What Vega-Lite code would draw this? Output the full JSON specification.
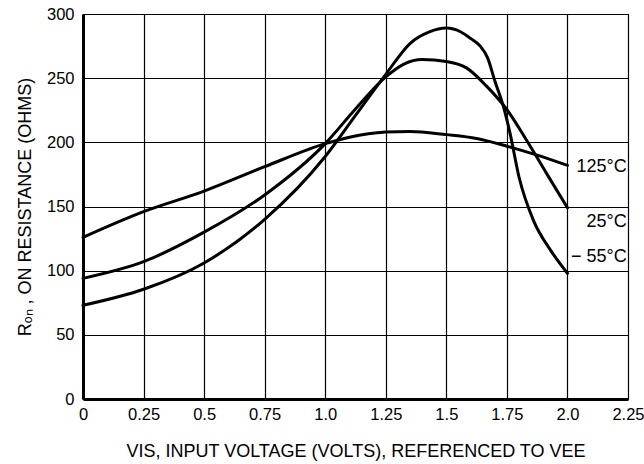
{
  "$schema": "https://vega.github.io/schema/vega-lite/v6.json",
  "autosize": {"type": "none"},
  "padding": {"left": 83, "top": 14, "right": 16, "bottom": 65},
  "width": 545,
  "height": 385,
  "background": "white",
  "config": {
    "font": "Liberation Sans, Arial, sans-serif",
    "view": {"stroke": "black", "strokeWidth": 1},
    "axis": {
      "grid": true,
      "gridColor": "black",
      "gridOpacity": 1,
      "gridWidth": 1.2,
      "domainColor": "black",
      "domainWidth": 3,
      "ticks": false,
      "labelColor": "black",
      "labelFontSize": 16.5,
      "titleColor": "black",
      "titleFontSize": 18,
      "titleFontWeight": "normal"
    }
  },
  "data": {
    "values": [
      {"series": "125", "v": 0, "r": 126},
      {"series": "125", "v": 0.25, "r": 146},
      {"series": "125", "v": 0.5, "r": 162},
      {"series": "125", "v": 0.75, "r": 181},
      {"series": "125", "v": 1.0, "r": 199},
      {"series": "125", "v": 1.1, "r": 204},
      {"series": "125", "v": 1.25, "r": 208},
      {"series": "125", "v": 1.35, "r": 208.5},
      {"series": "125", "v": 1.5, "r": 206},
      {"series": "125", "v": 1.625, "r": 203},
      {"series": "125", "v": 1.75, "r": 197},
      {"series": "125", "v": 1.875, "r": 190},
      {"series": "125", "v": 2.0, "r": 182},
      {"series": "25", "v": 0, "r": 94},
      {"series": "25", "v": 0.25, "r": 107},
      {"series": "25", "v": 0.5, "r": 130},
      {"series": "25", "v": 0.75, "r": 159},
      {"series": "25", "v": 1.0, "r": 199},
      {"series": "25", "v": 1.125, "r": 226},
      {"series": "25", "v": 1.25, "r": 251},
      {"series": "25", "v": 1.325, "r": 261},
      {"series": "25", "v": 1.4, "r": 264.5},
      {"series": "25", "v": 1.5, "r": 263},
      {"series": "25", "v": 1.583, "r": 258},
      {"series": "25", "v": 1.665, "r": 244},
      {"series": "25", "v": 1.748, "r": 226},
      {"series": "25", "v": 1.83, "r": 202},
      {"series": "25", "v": 1.913, "r": 176},
      {"series": "25", "v": 2.0, "r": 149},
      {"series": "-55", "v": 0, "r": 73},
      {"series": "-55", "v": 0.25, "r": 85.5},
      {"series": "-55", "v": 0.5, "r": 106},
      {"series": "-55", "v": 0.75, "r": 140},
      {"series": "-55", "v": 1.0, "r": 189},
      {"series": "-55", "v": 1.125, "r": 221},
      {"series": "-55", "v": 1.25, "r": 253},
      {"series": "-55", "v": 1.35, "r": 277},
      {"series": "-55", "v": 1.43, "r": 286},
      {"series": "-55", "v": 1.5, "r": 289},
      {"series": "-55", "v": 1.56, "r": 286},
      {"series": "-55", "v": 1.6, "r": 281},
      {"series": "-55", "v": 1.64, "r": 275},
      {"series": "-55", "v": 1.67, "r": 266},
      {"series": "-55", "v": 1.7, "r": 248},
      {"series": "-55", "v": 1.74, "r": 225},
      {"series": "-55", "v": 1.762, "r": 208},
      {"series": "-55", "v": 1.8, "r": 173},
      {"series": "-55", "v": 1.86, "r": 139},
      {"series": "-55", "v": 1.93, "r": 116},
      {"series": "-55", "v": 2.0, "r": 98}
    ]
  },
  "layer": [
    {
      "mark": {"type": "line", "interpolate": "monotone", "stroke": "black", "strokeWidth": 3, "strokeCap": "round"},
      "encoding": {
        "x": {
          "field": "v", "type": "quantitative",
          "scale": {"domain": [0, 2.25], "nice": false, "zero": false},
          "axis": {
            "values": [0, 0.25, 0.5, 0.75, 1, 1.25, 1.5, 1.75, 2, 2.25],
            "labelExpr": "datum.value == 0 ? '0' : datum.value == 1 ? '1.0' : datum.value == 2 ? '2.0' : toString(datum.value)",
            "labelPadding": 7,
            "labelFlush": false,
            "labelOverlap": false,
            "title": "VIS, INPUT VOLTAGE (VOLTS), REFERENCED TO VEE",
            "titlePadding": 20
          }
        },
        "y": {
          "field": "r", "type": "quantitative",
          "scale": {"domain": [0, 300], "nice": false},
          "axis": {
            "values": [0, 50, 100, 150, 200, 250, 300],
            "labelPadding": 9,
            "labelFlush": false,
            "labelOverlap": false,
            "title": "Rₒₙ , ON RESISTANCE (OHMS)",
            "titlePadding": 12
          }
        },
        "detail": {"field": "series", "type": "nominal"}
      }
    },
    {
      "data": {
        "values": [
          {"label": "125°C", "v": 2.245, "r": 181},
          {"label": "25°C", "v": 2.245, "r": 138},
          {"label": "− 55°C", "v": 2.245, "r": 111}
        ]
      },
      "mark": {"type": "text", "align": "right", "baseline": "middle", "fontSize": 18, "color": "black"},
      "encoding": {
        "x": {"field": "v", "type": "quantitative"},
        "y": {"field": "r", "type": "quantitative"},
        "text": {"field": "label", "type": "nominal"}
      }
    }
  ]
}
